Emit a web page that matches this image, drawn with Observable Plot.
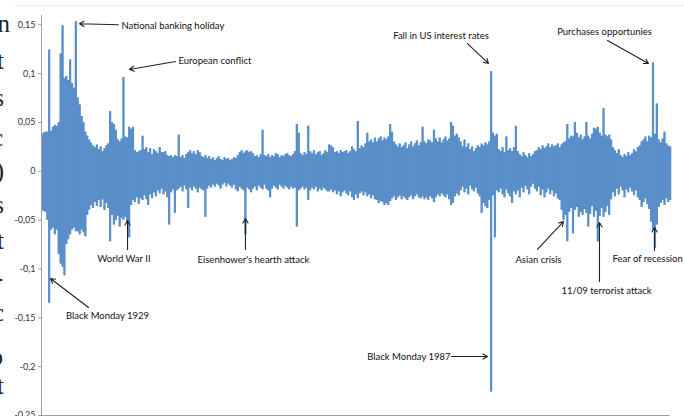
<!DOCTYPE html>
<html><head><meta charset="utf-8">
<script src="https://cdn.jsdelivr.net/npm/d3@7"></script>
<script src="https://cdn.jsdelivr.net/npm/@observablehq/plot@0.6"></script>
<style>
html,body{margin:0;padding:0;background:#fff;}
#wrap{position:relative;width:684px;height:416px;overflow:hidden;background:#fff;}
#chart{position:absolute;left:0;top:0;}
.pg{position:absolute;font-family:"Liberation Serif","DejaVu Serif",serif;font-size:25px;color:#222;line-height:1;white-space:nowrap;text-align:right;}
#topline{position:absolute;left:14px;right:0;top:5px;border-top:1px solid #eee;}
</style></head><body>
<div id="wrap"><div id="topline"></div><div id="chart"></div></div>
<script>
// Quarterly envelope of daily returns (percent), first quarter starting late 1928
const startYear = 1928.75;
const hi = [
 3.7, 3.9, 4.0, 4.0, 12.4, 4.1, 4.5, 4.7, 4.6, 5.0,
 12.0, 14.9, 9.5, 9.7, 9.3, 11.4, 9.0, 8.5, 15.3, 7.5,
 6.8, 5.6, 5.0, 4.0, 3.6, 3.2, 2.9, 2.6, 2.4, 2.7,
 2.2, 2.5, 2.0, 2.3, 2.6, 2.8, 6.1, 5.0, 4.8, 4.2,
 3.2, 3.0, 3.3, 9.6, 3.5, 3.4, 4.5, 4.3, 4.5, 2.1,
 1.9, 2.0, 2.1, 3.6, 2.2, 2.4, 1.9, 2.3, 1.7, 2.2,
 2.0, 1.8, 2.4, 1.9, 1.9, 2.0, 1.6, 1.5, 1.6, 1.4,
 1.6, 1.5, 3.7, 1.4, 1.6, 1.3, 1.7, 1.9, 2.1, 1.8,
 2.0, 1.7, 2.1, 1.9, 1.5, 1.4, 1.6, 1.3, 1.5, 1.2,
 1.4, 1.1, 1.3, 1.5, 1.2, 1.1, 1.4, 1.2, 1.3, 1.1,
 1.2, 1.4, 1.3, 1.6, 1.9, 2.1, 1.8, 2.0, 2.1, 1.9,
 2.0, 1.8, 1.5, 1.6, 1.4, 1.7, 4.2, 1.6, 1.5, 1.7,
 1.4, 1.6, 1.5, 1.8, 1.7, 1.4, 1.6, 1.5, 1.7, 1.8,
 1.6, 1.5, 1.7, 2.0, 4.8, 3.9, 1.8, 1.6, 1.9, 1.7,
 4.6, 2.0, 1.8, 2.1, 1.7, 1.9, 2.0, 1.6, 1.8, 2.1,
 1.9, 2.7, 2.6, 2.4, 1.9, 2.0, 1.8, 2.1, 1.9, 2.0,
 2.1, 1.8, 2.0, 2.5, 2.2, 2.0, 5.1, 2.3, 2.6, 2.4,
 2.8, 3.9, 3.0, 3.2, 2.9, 3.4, 3.0, 3.3, 3.5, 3.1,
 3.4, 3.2, 3.5, 4.8, 4.0, 3.0, 2.7, 2.5, 2.8, 2.4,
 2.6, 2.9, 2.3, 2.7, 3.0, 2.5, 2.8, 3.1, 2.6, 2.9,
 4.5, 3.0, 2.8, 3.2, 3.1, 2.9, 4.2, 3.3, 3.0, 3.4,
 2.9, 3.2, 3.5, 3.1, 3.3, 5.0, 4.6, 3.6, 3.8, 3.4,
 3.0, 2.5, 3.2, 2.4, 2.8, 2.2, 2.5, 2.0, 2.3, 2.6,
 2.4, 2.8, 2.6, 2.9, 2.7, 3.0, 10.2, 3.9, 3.6, 3.8,
 2.2, 2.0, 2.4, 1.9, 3.5, 2.1, 2.3, 2.0, 2.4, 4.6,
 2.0, 1.7, 1.5, 1.9, 1.6, 1.4, 1.8, 1.5, 1.7, 2.0,
 2.1, 2.4, 2.2, 2.6, 2.3, 2.5, 2.8, 2.4, 2.7, 2.5,
 2.6, 2.8, 2.4, 2.7, 2.9, 3.0, 4.8, 3.3, 3.6, 3.5,
 5.0, 3.9, 3.4, 3.7, 3.2, 3.5, 5.0, 3.6, 3.3, 3.8,
 4.4, 4.3, 4.5, 3.9, 3.6, 6.4, 3.7, 3.5, 3.7, 3.2,
 2.4, 2.1, 1.8, 2.2, 1.6, 1.4, 1.7, 1.5, 1.9, 1.6,
 1.8, 2.2, 2.0, 2.4, 2.6, 3.0, 3.2, 3.5, 3.0, 3.6,
 3.4, 11.1, 3.8, 6.9, 3.2, 2.9, 3.3, 4.0, 2.8, 2.6,
 2.5
];
const lo = [
 -4.0, -4.1, -4.2, -5.0, -13.5, -6.0, -5.8, -6.5, -6.0, -8.5,
 -9.5, -9.8, -10.7, -7.5, -7.0, -6.5, -6.0, -5.8, -6.2, -6.2,
 -6.5, -6.0, -6.3, -6.7, -4.5, -4.0, -3.5, -3.8, -3.2, -3.6,
 -3.0, -3.7, -2.9, -4.0, -3.3, -3.8, -7.2, -4.5, -5.5, -5.0,
 -4.6, -5.7, -4.8, -5.0, -4.7, -5.2, -6.8, -3.5, -3.0, -3.2,
 -2.7, -3.4, -2.8, -3.0, -2.5, -2.9, -3.5, -2.4, -2.8, -2.2,
 -2.6, -2.0, -2.3, -1.8, -2.4, -2.1, -2.7, -5.5, -2.2, -1.9,
 -4.3, -2.0, -1.8, -1.6, -2.1, -1.5, -1.9, -3.8, -1.7, -2.0,
 -1.6, -1.8, -2.2, -1.7, -1.9, -2.0, -4.7, -1.8, -1.5, -1.7,
 -1.4, -1.6, -1.3, -1.5, -1.8, -1.4, -1.2, -1.6, -1.3, -1.5,
 -1.7, -1.4, -1.9, -2.1, -1.6, -1.8, -2.0, -6.5, -1.7, -1.9,
 -2.2, -1.8, -1.6, -2.0, -1.5, -1.7, -1.9, -1.4, -1.8, -2.0,
 -2.7, -1.8, -1.5, -1.7, -1.9, -1.4, -1.6, -1.8, -1.5, -1.7,
 -1.9, -1.6, -1.8, -1.7, -5.7, -2.0, -1.8, -1.6, -1.9, -1.7,
 -3.0, -2.0, -1.7, -1.9, -1.6, -2.1, -1.8, -2.0, -1.7, -1.9,
 -2.1, -2.1, -1.9, -2.2, -2.0, -2.4, -2.1, -2.6, -2.2, -2.0,
 -2.3, -2.5, -2.1, -2.7, -3.0, -2.4, -2.8, -2.3, -2.1, -2.5,
 -2.2, -2.6, -2.4, -2.8, -2.5, -2.9, -3.0, -3.3, -3.1, -3.2,
 -3.5, -3.3, -3.5, -3.1, -2.8, -2.6, -3.0, -2.7, -2.5, -2.9,
 -2.6, -2.8, -3.0, -2.7, -2.5, -2.9, -2.6, -2.4, -2.7, -2.8,
 -2.6, -2.9, -2.7, -3.0, -2.6, -2.8, -3.2, -2.7, -2.4, -2.6,
 -2.3, -2.5, -2.7, -2.4, -2.9, -3.5, -3.3, -2.6, -2.3, -2.5,
 -2.0, -1.6, -2.2, -1.8, -2.4, -1.5, -1.9, -2.1, -1.7, -2.3,
 -2.6, -4.3, -3.3, -3.6, -3.8, -3.0, -22.6, -2.5, -6.8, -2.0,
 -2.2, -1.8, -2.4, -2.7, -1.9, -2.3, -2.6, -3.3, -2.1, -2.4,
 -2.0, -2.7, -1.7, -2.2, -1.5, -1.9, -2.4, -1.6, -1.3, -1.8,
 -2.1, -1.6, -2.5, -1.9, -2.7, -2.2, -1.8, -2.4, -2.0, -2.6,
 -2.3, -2.8, -3.0, -4.0, -5.0, -4.5, -7.2, -4.2, -3.8, -6.4,
 -4.0, -3.7, -4.7, -4.2, -4.5, -3.9, -4.3, -5.7, -4.4, -3.6,
 -4.7, -4.1, -7.2, -4.6, -3.8, -4.7, -4.2, -3.6, -4.5, -2.9,
 -2.2, -2.6, -1.8, -2.4, -1.6, -2.0, -2.7, -1.9, -2.2, -1.7,
 -2.1, -2.5, -2.0, -2.7, -3.0, -3.7, -3.2, -2.8, -3.4, -3.9,
 -5.2, -6.0, -7.9, -5.5, -3.7, -3.3, -3.0, -3.5, -2.8, -3.2,
 -3.0
];
const yTicks = [-0.25, -0.2, -0.15, -0.1, -0.05, 0, 0.05, 0.1, 0.15];
const yTickLabels = ["-0,25", "-0,2", "-0,15", "-0,1", "-0,05", "0", "0,05", "0,1", "0,15"];

// Annotations: label position and arrow (year, return)
const noteLabels = ["National banking holiday", "European conflict", "Fall in US interest rates", "Purchases opportunies",
  "World War II", "Eisenhower's hearth attack", "Black Monday 1929", "Black Monday 1987",
  "Asian crisis", "11/09 terrorist attack", "Fear of recession"];
const noteAnchor = ["start", "start", "middle", "middle", "middle", "middle", "middle", "end", "middle", "middle", "start"];
const noteTextX = [1939.2, 1946.68, 1981.13, 2002.59, 1939.53, 1956.52, 1937.36, 1982.38, 1993.92, 2002.85, 2003.64];
const noteTextY = [0.149, 0.1134, 0.139, 0.143, -0.0893, -0.0903, -0.1476, -0.1896, -0.0903, -0.123, -0.0893];
const arrowX1 = [1938.8, 1946.29, 1984.6, 2002.98, 1939.99, 1955.47, 1934.87, 1982.51, 1993.79, 2001.93, 2009.15];
const arrowY1 = [0.150, 0.1124, 0.1308, 0.1339, -0.080, -0.080, -0.1394, -0.1896, -0.080, -0.1128, -0.081];
const arrowX2 = [1933.69, 1940.25, 1987.36, 2008.36, 1939.99, 1955.47, 1929.88, 1987.23, 1997.2, 2001.93, 2009.15];
const arrowY2 = [0.151, 0.1042, 0.1104, 0.1104, -0.0504, -0.0483, -0.1098, -0.1896, -0.0514, -0.0524, -0.0575];

const series = hi.map((h, i) => ({year: startYear + i / 4, hi: h / 100, lo: lo[i] / 100}));
const notes = noteLabels.map((label, i) => ({
  label, anchor: noteAnchor[i], tx: noteTextX[i], ty: noteTextY[i],
  x1: arrowX1[i], y1: arrowY1[i], x2: arrowX2[i], y2: arrowY2[i]
}));

const blue = "#5a8fc9";
const font = "Lato, 'Open Sans', sans-serif";
const xMin = 1928.7;

const textMark = (anchor) => Plot.text(notes, {
  filter: d => d.anchor === anchor, x: "tx", y: "ty", text: "label",
  textAnchor: anchor, fontSize: 9.5, fill: "#111", lineAnchor: "middle"
});

const chart = Plot.plot({
  width: 684, height: 416,
  marginLeft: 41, marginRight: 14, marginTop: 15, marginBottom: 1,
  style: {fontFamily: font, background: "transparent", overflow: "visible"},
  x: {domain: [xMin, 2011.25], axis: null},
  y: {domain: [-0.25, 0.1595], axis: null},
  marks: [
    Plot.areaY(series, {x: "year", y1: "lo", y2: "hi", fill: blue, curve: "step"}),
    Plot.ruleX(series, {x: "year", y1: "lo", y2: "hi", stroke: blue, strokeWidth: 1.6}),
    Plot.ruleY([-0.25], {stroke: "#a0a0a0"}),
    Plot.ruleX([xMin], {stroke: "#a0a0a0"}),
    Plot.axisY({ticks: yTicks, tickFormat: d => yTickLabels[yTicks.indexOf(d)], tickSize: 3, tickPadding: 3,
      fontSize: 9, stroke: "#a0a0a0", fill: "#333"}),
    Plot.arrow(notes, {x1: "x1", y1: "y1", x2: "x2", y2: "y2", stroke: "#222", strokeWidth: 1.1, headLength: 7, headAngle: 60}),
    textMark("start"), textMark("middle"), textMark("end")
  ]
});
document.getElementById("chart").appendChild(chart);

// Fragments of the surrounding page text, cut by the left edge
const pageLetters = ["n", "t", "s", "c", ")", "s", "t", "-", "c", "o", "t"];
const pageBase = [33, 70, 107, 147, 180, 214, 250, 287, 322, 366, 395];
const pageRight = [10, 4, 4, 3, 4, 4, 4, 3, 4, 3, 4];
const wrap = document.getElementById("wrap");
pageLetters.forEach((ch, i) => {
  const d = document.createElement("div");
  d.className = "pg";
  d.textContent = ch;
  d.style.top = (pageBase[i] - 22) + "px";
  d.style.right = (684 - pageRight[i]) + "px";
  wrap.appendChild(d);
});
</script>
</body></html>
